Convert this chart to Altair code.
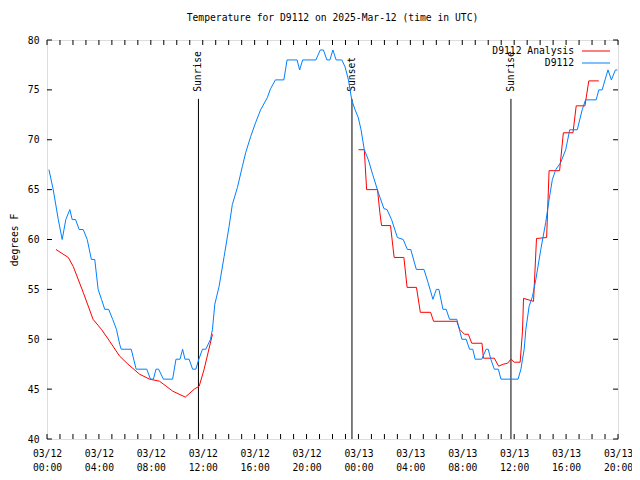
import altair as alt
import pandas as pd
from datetime import datetime, timedelta, timezone

# ---------------- data (hours after 2025-03-12 00:00 UTC) ----------------
obs_hours = [0.15, 0.48, 0.87, 1.17, 1.45, 1.76, 1.94, 2.2, 2.48, 2.79, 3.1, 3.42, 3.68, 3.94,
             4.2, 4.45, 4.75, 5.06, 5.35, 5.6, 5.72, 6.49, 6.87, 7.69, 7.97, 8.2, 8.4, 8.6,
             8.97, 9.68, 9.94, 10.25, 10.45, 10.63, 10.95, 11.22, 11.47, 11.7, 11.98, 12.24,
             12.6, 12.75, 12.93, 13.26, 13.65, 14.03, 14.28, 14.67, 15.05, 15.31, 15.69, 16.07,
             16.46, 16.97, 17.22, 17.6, 18.25, 18.5, 19.27, 19.47, 19.7, 20.72, 21.06, 21.3,
             21.57, 21.8, 22.03, 22.28, 22.72, 22.97, 23.23, 23.48, 23.74, 23.99, 24.2, 24.45,
             24.76, 25.1, 25.53, 25.96, 26.2, 26.55, 27.0, 27.45, 27.77, 28.03, 28.46, 29.05,
             29.36, 29.74, 30.0, 30.2, 30.51, 30.76, 31.02, 31.58, 31.97, 32.3, 32.56, 32.81,
             32.99, 33.5, 33.84, 34.0, 34.2, 34.47, 34.78, 34.98, 36.3, 36.52, 36.64, 36.77,
             36.9, 37.15, 37.41, 37.67, 38.05, 38.43, 38.69, 38.94, 39.2, 39.58, 39.97, 40.28,
             40.86, 41.24, 41.5, 42.32, 42.52, 42.78, 43.0, 43.23, 43.49, 43.8, 43.95]
obs_temps = [67, 65, 62, 60, 62, 63, 62, 62, 61, 61, 60, 58, 58, 55,
             54, 53, 53, 52, 51, 49.5, 49, 49, 47, 47, 46, 46, 47, 47,
             46, 46, 48, 48, 49, 48, 48, 47, 47, 48, 49, 49,
             50, 51, 53.5, 55.3, 58.3, 61.3, 63.5, 65.2, 67.3, 68.7, 70.3, 71.7,
             73, 74.2, 75.1, 76, 76, 78, 78, 77, 78, 78, 79, 79,
             78, 78, 79, 78, 78, 77.3, 76, 74, 73, 72.2, 71, 69,
             68, 66.5, 64.7, 63.1, 63, 62, 60.2, 60, 59, 59, 57, 57,
             55.7, 54, 55, 55, 53, 53, 52, 52, 50, 50, 49, 49,
             48, 48, 49, 49, 48, 47, 47, 46, 46, 47, 48, 49,
             51, 53.3, 54.3, 56, 59, 61.7, 64, 66, 67, 67.7, 69, 71,
             71, 73, 74, 74, 75, 75, 76, 77, 76, 77, 77]

ana1_hours = [0.69, 1.64, 2.02, 2.79, 3.55, 4.19, 4.83, 5.6, 6.24, 7.13, 7.9, 8.66, 9.18,
              9.68, 10.66, 11.35, 11.73, 12.11, 12.75]
ana1_temps = [59, 58.2, 57.3, 54.7, 52, 51, 49.8, 48.3, 47.5, 46.5, 46, 45.8, 45.3,
              44.8, 44.2, 45, 45.3, 47, 50.5]

ana2_hours = [24.0, 24.45, 24.63, 25.47, 25.65, 25.78, 26.47, 26.75, 27.5, 27.75, 28.47,
              28.77, 29.56, 29.79, 31.58, 31.79, 32.17, 32.47, 32.73, 33.52, 33.63, 34.47,
              34.8, 35.16, 35.49, 35.75, 36.0, 36.46, 36.64, 36.72, 37.49, 37.72, 38.5,
              38.69, 39.5, 39.79, 40.53, 40.78, 41.45, 41.75, 42.52]
ana2_temps = [69, 69, 65, 65, 62.7, 61.4, 61.4, 58.2, 58.2, 55.2, 55.2,
              52.7, 52.7, 51.8, 51.8, 51, 50.5, 50.5, 49.6, 49.6, 48.1, 48.1,
              47.3, 47.5, 47.6, 48, 47.7, 47.7, 50.8, 54.1, 53.8, 60.1, 60.2,
              66.9, 66.9, 70.7, 70.7, 73.4, 73.4, 75.9, 75.9]

sun_hours = [11.67, 23.5, 35.75]
sun_labels = ["Sunrise", "Sunset", "Sunrise"]

series_names = ["D9112 Analysis", "D9112"]
series_colors = ["#ff0000", "#0080ff"]

y_ticks = [40, 45, 50, 55, 60, 65, 70, 75, 80]
x_label_hours = [0, 4, 8, 12, 16, 20, 24, 28, 32, 36, 40, 44]

# ---------------- helpers ----------------
BASE = datetime(2025, 3, 12, tzinfo=timezone.utc)
FONT = "DejaVu Sans Mono"
FS = 9.7


def iso(h):
    return (BASE + timedelta(hours=h)).strftime("%Y-%m-%dT%H:%M:%SZ")


def dt(h):
    d = BASE + timedelta(hours=h)
    return alt.DateTime(year=d.year, month=d.month, date=d.day, hours=d.hour,
                        minutes=d.minute, utc=True)


xscale = alt.Scale(type="utc", domain=[dt(0), dt(44)])
yscale = alt.Scale(domain=[40, 80], nice=False, zero=False)

xaxis = alt.Axis(values=[dt(h) for h in x_label_hours],
                 labelExpr="[utcFormat(datum.value, '%m/%d'), utcFormat(datum.value, '%H:%M')]",
                 ticks=False, domain=False, grid=False, title=None,
                 labelFont=FONT, labelFontSize=FS, labelColor="black",
                 labelPadding=9, labelLineHeight=14, labelFlush=False, labelOverlap=False)
yaxis = alt.Axis(values=y_ticks, ticks=False, domain=False, grid=False,
                 title="degrees F", titleFont=FONT, titleFontSize=FS,
                 titleFontWeight="normal", titleColor="black", titlePadding=8,
                 labelFont=FONT, labelFontSize=FS, labelColor="black", labelPadding=8)


def X(f="t"):
    return alt.X(f"{f}:T", scale=xscale, axis=xaxis)


def Y(f="v"):
    return alt.Y(f"{f}:Q", scale=yscale, axis=yaxis)


# ---------------- frames ----------------
obs_df = pd.DataFrame({"t": [iso(h) for h in obs_hours], "v": obs_temps})
ana_df = pd.DataFrame({
    "t": [iso(h) for h in ana1_hours] + [iso(h) for h in ana2_hours],
    "v": ana1_temps + ana2_temps,
    "seg": [1] * len(ana1_hours) + [2] * len(ana2_hours),
})
sun_df = pd.DataFrame({"t": [iso(h) for h in sun_hours], "label": sun_labels,
                       "v": [40] * 3, "v2": [74.1] * 3, "vl": [74.8] * 3})

hours = list(range(0, 45))
xt_df = pd.DataFrame({"t": [iso(h) for h in hours] * 2,
                      "v": [40] * len(hours) + [79.5] * len(hours),
                      "v2": [40.5] * len(hours) + [80] * len(hours)})
yt_df = pd.DataFrame({"t": [iso(0)] * len(y_ticks) + [iso(43.62)] * len(y_ticks),
                      "t2": [iso(0.38)] * len(y_ticks) + [iso(44)] * len(y_ticks),
                      "v": y_ticks * 2})

# ---------------- layers ----------------
sun_rules = alt.Chart(sun_df).mark_rule(color="black", strokeWidth=1).encode(
    x=X(), y=Y(), y2="v2:Q")
sun_text = alt.Chart(sun_df).mark_text(angle=270, align="left", baseline="middle",
                                       font=FONT, fontSize=FS, color="black").encode(
    x=X(), y=Y("vl"), text="label:N")

ana_line = alt.Chart(ana_df).mark_line(color=series_colors[0], strokeWidth=1).encode(
    x=X(), y=Y(), detail="seg:N")
obs_line = alt.Chart(obs_df).mark_line(color=series_colors[1], strokeWidth=1).encode(
    x=X(), y=Y())

xticks = alt.Chart(xt_df).mark_rule(color="black", strokeWidth=1).encode(
    x=X(), y=Y(), y2="v2:Q")
yticks = alt.Chart(yt_df).mark_rule(color="black", strokeWidth=1).encode(
    x=X(), x2="t2:T", y=Y())

legend_layers = []
for i, (name, col) in enumerate(zip(series_names, series_colors)):
    ly = 11 + 12 * i
    one = pd.DataFrame({"name": [name]})
    legend_layers.append(alt.Chart(one).mark_text(align="right", baseline="middle",
                                                  font=FONT, fontSize=FS, color="black").encode(
        x=alt.value(527), y=alt.value(ly), text="name:N"))
    legend_layers.append(alt.Chart(one).mark_rule(color=col, strokeWidth=1).encode(
        x=alt.value(535), x2=alt.value(563), y=alt.value(ly)))

chart = alt.layer(sun_rules, sun_text, ana_line, obs_line, xticks, yticks, *legend_layers).properties(
    width=571, height=399,
    title=alt.TitleParams("Temperature for D9112 on 2025-Mar-12 (time in UTC)",
                          font=FONT, fontSize=FS, fontWeight="normal", color="black",
                          anchor="middle", offset=12),
    autosize=alt.AutoSizeParams(type="none"),
    padding={"left": 39, "top": 32, "right": 14, "bottom": 33},
).configure_view(stroke="black", strokeWidth=1).configure(background="white")

chart.save("out.html", embed_options={"renderer": "svg", "actions": False})
